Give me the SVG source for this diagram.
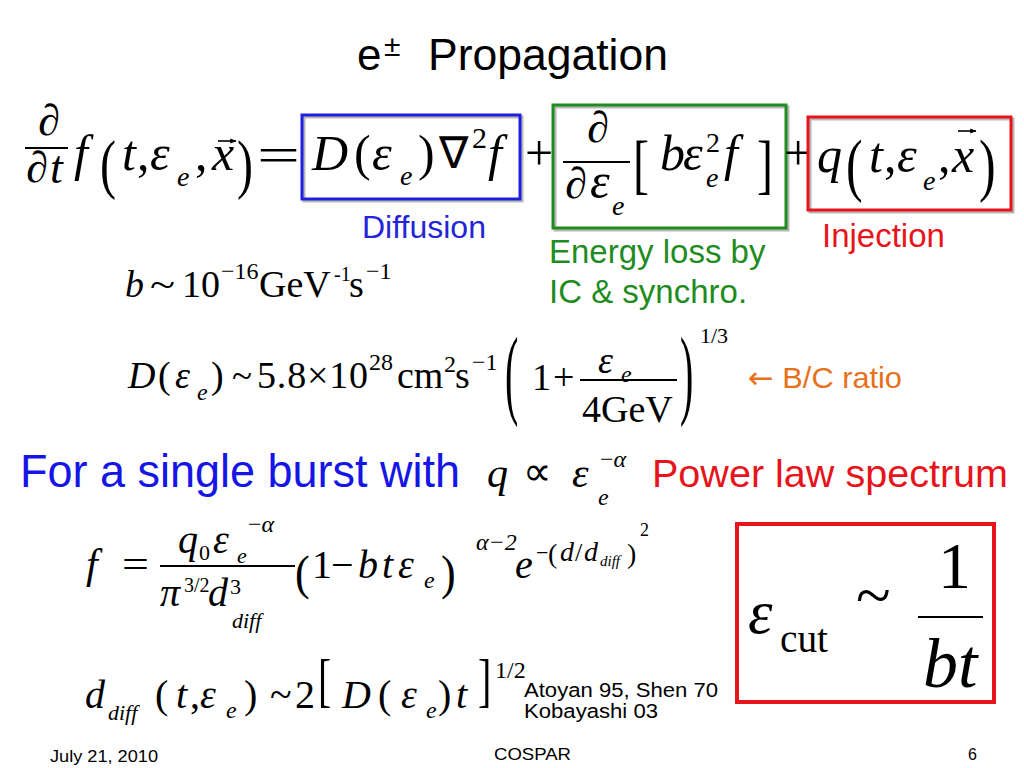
<svg xmlns="http://www.w3.org/2000/svg" width="1024" height="768" viewBox="0 0 1024 768">
<style>
.mi{font-family:"Liberation Serif","Times New Roman",serif;font-style:italic;fill:#000}
.mn{font-family:"Liberation Serif","Times New Roman",serif;fill:#000}
.ss{font-family:"Liberation Sans",Arial,sans-serif}
.bar{stroke:#000;stroke-width:2;fill:none}
.vec{stroke:#000;stroke-width:1.6;fill:none;marker-end:url(#vhead)}
.box{fill:none;stroke-width:3}
.shadow{fill:none;stroke:#b8b8b8;stroke-width:3}
</style>
<defs>
<marker id="vhead" viewBox="0 0 10 10" refX="9" refY="5" markerWidth="4" markerHeight="4" orient="auto" markerUnits="strokeWidth">
<path d="M0,1 L10,5 L0,9 z" fill="#000"/>
</marker>
</defs>
<rect x="0" y="0" width="1024" height="768" fill="#fff"/>

<g id="title">
<text class="ss" x="357" y="70" font-size="44">e</text>
<text class="ss" x="384" y="56" font-size="30">±</text>
<text class="ss" x="428" y="70" font-size="44" textLength="240" lengthAdjust="spacingAndGlyphs">Propagation</text>
</g>

<g id="main-equation">
<text class="mn" x="38" y="135" font-size="44">∂</text>
<line class="bar" x1="25" y1="148" x2="68" y2="148"/>
<text class="mn" x="26" y="182" font-size="44">∂</text>
<text class="mi" x="50" y="183" font-size="46">t</text>
<text class="mi" x="74" y="170" font-size="50">f</text>
<text class="mn" font-size="48" transform="translate(100,186) scale(1,1.35)">(</text>
<text class="mi" x="122" y="170" font-size="50">t</text>
<text class="mn" x="137" y="170" font-size="50">,</text>
<text class="mi" x="150" y="170" font-size="50">ε</text>
<text class="mi" x="177" y="186" font-size="28">e</text>
<text class="mn" x="195" y="170" font-size="50">,</text>
<text class="mi" x="212" y="170" font-size="50">x</text>
<line class="vec" x1="218" y1="141" x2="236" y2="141"/>
<text class="mn" font-size="48" transform="translate(237,186) scale(1,1.35)">)</text>
<text class="mn" x="257" y="172" font-size="50" textLength="43" lengthAdjust="spacingAndGlyphs">=</text>
</g>

<g id="diffusion-term">
<rect class="shadow" x="304" y="117" width="218" height="84"/>
<rect class="box" x="302" y="115" width="218" height="84" stroke="#1f1fe0"/>
<text class="mi" x="312" y="170" font-size="50">D</text>
<text class="mn" x="354" y="170" font-size="50">(</text>
<text class="mi" x="372" y="170" font-size="50">ε</text>
<text class="mi" x="400" y="185" font-size="28">e</text>
<text class="mn" x="418" y="170" font-size="50">)</text>
<text class="mn" x="439" y="168" font-size="44">∇</text>
<text class="mn" x="472" y="148" font-size="30">2</text>
<text class="mi" x="488" y="170" font-size="50">f</text>
<text class="ss" x="362" y="238" font-size="32" fill="#2424d8">Diffusion</text>
</g>

<text class="mn" x="525" y="170" font-size="50">+</text>

<g id="energy-loss-term">
<rect class="shadow" x="555" y="107" width="233" height="123"/>
<rect class="box" x="553" y="105" width="233" height="123" stroke="#1f8c1f"/>
<text class="mn" x="587" y="142" font-size="44">∂</text>
<line class="bar" x1="563" y1="162" x2="630" y2="162"/>
<text class="mn" x="565" y="198" font-size="44">∂</text>
<text class="mi" x="590" y="198" font-size="50">ε</text>
<text class="mi" x="612" y="215" font-size="28">e</text>
<text class="mn" font-size="48" transform="translate(633,186) scale(1,1.35)">[</text>
<text class="mi" x="660" y="170" font-size="50">b</text>
<text class="mi" x="683" y="170" font-size="50">ε</text>
<text class="mn" x="706" y="152" font-size="28">2</text>
<text class="mi" x="706" y="187" font-size="28">e</text>
<text class="mi" x="724" y="170" font-size="50">f</text>
<text class="mn" font-size="48" transform="translate(757,186) scale(1,1.35)">]</text>
<text class="ss" x="549" y="263" font-size="33" fill="#1f8c1f">Energy loss by</text>
<text class="ss" x="549" y="303" font-size="33" fill="#1f8c1f">IC &amp; synchro.</text>
</g>

<text class="mn" x="784" y="170" font-size="50">+</text>

<g id="injection-term">
<rect class="shadow" x="810" y="119" width="203" height="93"/>
<rect class="box" x="808" y="117" width="203" height="93" stroke="#e8141c"/>
<text class="mi" x="817" y="172" font-size="50">q</text>
<text class="mn" font-size="50" transform="translate(846,188) scale(1,1.4)">(</text>
<text class="mi" x="869" y="172" font-size="50">t</text>
<text class="mn" x="884" y="172" font-size="50">,</text>
<text class="mi" x="897" y="172" font-size="50">ε</text>
<text class="mi" x="923" y="190" font-size="28">e</text>
<text class="mn" x="938" y="172" font-size="50">,</text>
<text class="mi" x="952" y="172" font-size="50">x</text>
<line class="vec" x1="958" y1="131" x2="976" y2="131"/>
<text class="mn" font-size="50" transform="translate(979,188) scale(1,1.4)">)</text>
<text class="ss" x="822" y="247" font-size="33" fill="#e8141c">Injection</text>
</g>

<g id="b-value">
<text class="mi" x="125" y="297" font-size="38">b</text>
<text class="mn" x="150" y="297" font-size="38" textLength="25" lengthAdjust="spacingAndGlyphs">~</text>
<text class="mn" x="182" y="297" font-size="38">10</text>
<text class="mn" x="221" y="279" font-size="24">−16</text>
<text class="mn" x="259" y="297" font-size="38">GeV</text>
<text class="mn" x="334" y="281" font-size="20">-1</text>
<text class="mn" x="349" y="297" font-size="38">s</text>
<text class="mn" x="366" y="279" font-size="24">−1</text>
</g>

<g id="d-value">
<text class="mi" x="128" y="388" font-size="38">D</text>
<text class="mn" x="158" y="388" font-size="38">(</text>
<text class="mi" x="175" y="388" font-size="38">ε</text>
<text class="mi" x="197" y="400" font-size="24">e</text>
<text class="mn" x="211" y="388" font-size="38">)</text>
<text class="mn" x="232" y="388" font-size="38" textLength="20" lengthAdjust="spacingAndGlyphs">~</text>
<text class="mn" x="257" y="388" font-size="38" textLength="111" lengthAdjust="spacing">5.8×10</text>
<text class="mn" x="369" y="370" font-size="24">28</text>
<text class="mn" x="397" y="388" font-size="38">cm</text>
<text class="mn" x="444" y="372" font-size="24">2</text>
<text class="mn" x="455" y="388" font-size="38">s</text>
<text class="mn" x="472" y="370" font-size="24">−1</text>
<text class="mn" font-size="40" transform="translate(505,406) scale(1,2.5)">(</text>
<text class="mn" x="532" y="390" font-size="38">1</text>
<text class="mn" x="553" y="390" font-size="38">+</text>
<text class="mi" x="598" y="373" font-size="38">ε</text>
<text class="mi" x="621" y="382" font-size="24">e</text>
<line class="bar" x1="580" y1="380" x2="677" y2="380" stroke-width="1.5"/>
<text class="mn" x="582" y="422" font-size="38">4GeV</text>
<text class="mn" font-size="40" transform="translate(680,406) scale(1,2.5)">)</text>
<text class="mn" x="700" y="343" font-size="22">1/3</text>
<text class="ss" x="748" y="388" font-size="30" fill="#e8711c" textLength="154" lengthAdjust="spacingAndGlyphs"><tspan font-family="DejaVu Sans,sans-serif">←</tspan> B/C ratio</text>
</g>

<g id="single-burst">
<text class="ss" x="20" y="487" font-size="47" fill="#1515e6" textLength="440" lengthAdjust="spacingAndGlyphs">For a single burst with</text>
<text class="mi" x="487" y="487" font-size="42">q</text>
<text class="mn" x="523" y="485" font-size="40">∝</text>
<text class="mi" x="572" y="487" font-size="42">ε</text>
<text class="mi" x="598" y="505" font-size="24">e</text>
<text class="mn" x="600" y="467" font-size="24">−<tspan class="mi">α</tspan></text>
<text class="ss" x="652" y="487" font-size="39" fill="#e8141c" textLength="356" lengthAdjust="spacingAndGlyphs">Power law spectrum</text>
</g>

<g id="f-solution">
<text class="mi" x="86" y="578" font-size="42">f</text>
<text class="mn" x="122" y="578" font-size="40" textLength="27" lengthAdjust="spacingAndGlyphs">=</text>
<text class="mi" x="178" y="553" font-size="40">q</text>
<text class="mn" x="199" y="560" font-size="22">0</text>
<text class="mi" x="213" y="553" font-size="40">ε</text>
<text class="mi" x="237" y="563" font-size="22">e</text>
<text class="mn" x="248" y="532" font-size="24">−<tspan class="mi">α</tspan></text>
<line class="bar" x1="160" y1="566" x2="295" y2="566"/>
<text class="mi" x="160" y="606" font-size="40">π</text>
<text class="mn" x="184" y="592" font-size="20">3/2</text>
<text class="mi" x="208" y="606" font-size="40">d</text>
<text class="mn" x="230" y="594" font-size="22">3</text>
<text class="mi" x="232" y="628" font-size="22">diff</text>
<text class="mn" font-size="44" transform="translate(295,589) scale(1,1.1)">(</text>
<text class="mn" x="312" y="578" font-size="40">1</text>
<text class="mn" x="331" y="578" font-size="40">−</text>
<text class="mi" x="358" y="578" font-size="40">b</text>
<text class="mi" x="382" y="578" font-size="40">t</text>
<text class="mi" x="398" y="578" font-size="40">ε</text>
<text class="mi" x="424" y="588" font-size="24">e</text>
<text class="mn" font-size="44" transform="translate(441,589) scale(1,1.1)">)</text>
<text class="mi" x="476" y="550" font-size="24">α<tspan class="mn">−2</tspan></text>
<text class="mi" x="515" y="578" font-size="40">e</text>
<text class="mn" x="536" y="560" font-size="22">−</text>
<text class="mn" x="548" y="563" font-size="28">(</text>
<text class="mi" x="560" y="561" font-size="28">d</text>
<text class="mn" x="575" y="561" font-size="26">/</text>
<text class="mi" x="584" y="561" font-size="28">d</text>
<text class="mi" x="600" y="566" font-size="15">diff</text>
<text class="mn" x="627" y="563" font-size="28">)</text>
<text class="mn" x="640" y="536" font-size="18">2</text>
</g>

<g id="d-diff">
<text class="mi" x="85" y="708" font-size="40">d</text>
<text class="mi" x="108" y="720" font-size="22">diff</text>
<text class="mn" x="155" y="708" font-size="40">(</text>
<text class="mi" x="176" y="708" font-size="40">t</text>
<text class="mn" x="190" y="708" font-size="40">,</text>
<text class="mi" x="200" y="708" font-size="40">ε</text>
<text class="mi" x="226" y="718" font-size="24">e</text>
<text class="mn" x="244" y="708" font-size="40">)</text>
<text class="mn" x="270" y="708" font-size="40">~</text>
<text class="mn" x="295" y="708" font-size="40">2</text>
<text class="mn" font-size="40" transform="translate(318,700) scale(1,1.5)">[</text>
<text class="mi" x="342" y="708" font-size="40">D</text>
<text class="mn" x="378" y="708" font-size="40">(</text>
<text class="mi" x="401" y="708" font-size="40">ε</text>
<text class="mi" x="426" y="718" font-size="24">e</text>
<text class="mn" x="438" y="708" font-size="40">)</text>
<text class="mi" x="456" y="708" font-size="40">t</text>
<text class="mn" font-size="40" transform="translate(478,700) scale(1,1.5)">]</text>
<text class="mn" x="495" y="678" font-size="24">1/2</text>
<text class="ss" x="524" y="697" font-size="20" textLength="194" lengthAdjust="spacingAndGlyphs">Atoyan 95, Shen 70</text>
<text class="ss" x="524" y="718" font-size="20" textLength="134" lengthAdjust="spacingAndGlyphs">Kobayashi 03</text>
</g>

<g id="cutoff-box">
<rect x="737" y="524" width="257" height="178" fill="none" stroke="#e8141c" stroke-width="4"/>
<text class="mi" x="748" y="633" font-size="62">ε</text>
<text class="mn" x="780" y="652" font-size="40" textLength="48" lengthAdjust="spacingAndGlyphs">cut</text>
<text class="mn" x="856" y="617" font-size="64">~</text>
<text class="mn" x="938" y="588" font-size="66">1</text>
<line class="bar" x1="918" y1="617" x2="983" y2="617" stroke-width="2.5"/>
<text class="mi" x="923" y="687" font-size="70">bt</text>
</g>

<g id="footer">
<text class="ss" x="50" y="762" font-size="16" textLength="108" lengthAdjust="spacingAndGlyphs">July 21, 2010</text>
<text class="ss" x="494" y="760" font-size="17" textLength="77" lengthAdjust="spacingAndGlyphs">COSPAR</text>
<text class="ss" x="968" y="760" font-size="16">6</text>
</g>
</svg>
